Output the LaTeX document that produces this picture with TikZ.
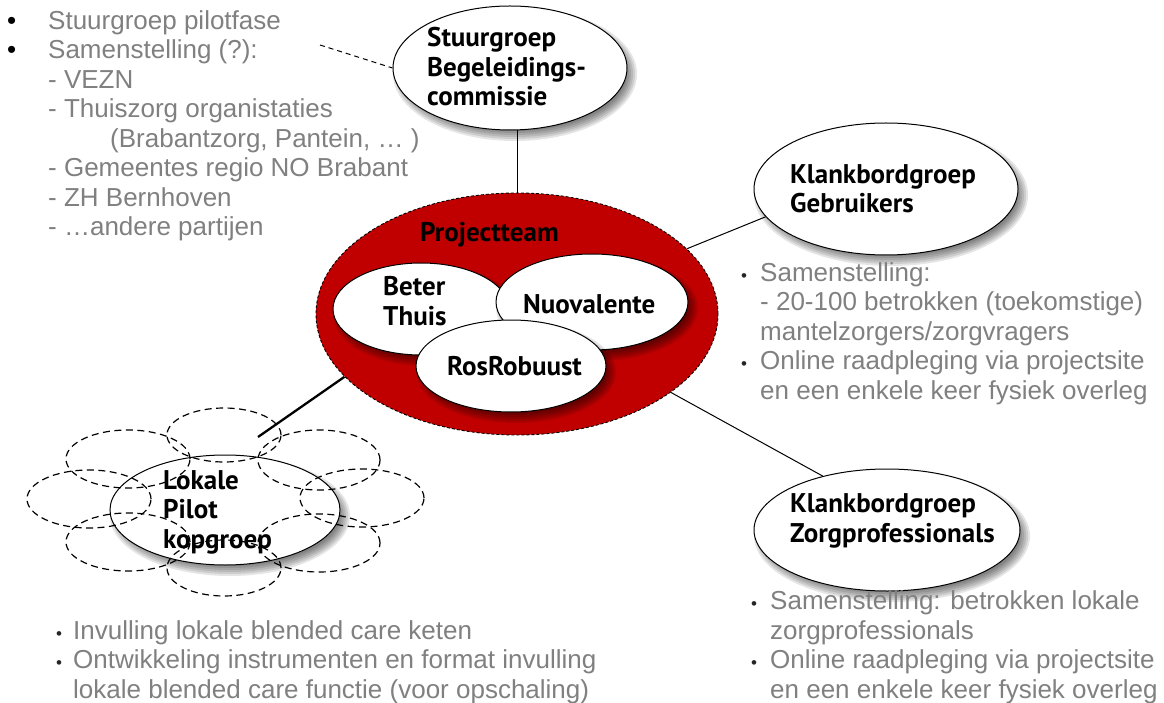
\documentclass[tikz,border=0pt]{standalone}
\usepackage{fontspec}
\setmainfont{Liberation Sans}
\newfontfamily\nodefont{PT Sans}
\usetikzlibrary{shapes.geometric}
\definecolor{txtgray}{RGB}{128,128,128}
\definecolor{projred}{RGB}{192,0,0}
\pgfdeclarelayer{back}
\pgfdeclarelayer{bg}
\pgfsetlayers{back,bg,main}
\newcommand\softshadow[4]{%
  \foreach \k in {0,...,5}{%
    \fill[black, opacity=0.1] (#1+5,#2+6) ellipse [x radius={#3+5-2*\k}, y radius={#4+5-2*\k}];}}
\begin{document}
\begin{tikzpicture}[x=1pt,y=-1pt,
  bubble/.style={ellipse, draw=black, line width=1pt, fill=white, inner sep=0pt},
  cloudpart/.style={ellipse, draw=black, dash pattern=on 7pt off 4.5pt, line width=1.2pt, inner sep=0pt},
  lbl/.style={font=\nodefont\bfseries\fontsize{27}{29.5}\selectfont, align=left, anchor=base west, inner sep=0pt},
  graytext/.style={font=\fontsize{26}{29.5}\selectfont, text=txtgray, align=left, anchor=base west, inner sep=0pt},
  link/.style={draw=black, line width=1pt}]
\begin{pgfonlayer}{back}
\fill[white] (0,0) rectangle (1164,703);
\end{pgfonlayer}
\useasboundingbox (0,0) rectangle (1164,703);

% central project team
\node[ellipse, fill=projred, draw=black, dash pattern=on 3pt off 2pt, line width=0.9pt,
      minimum width=402pt, minimum height=242pt, inner sep=0pt] (proj) at (517,314) {};
\node[lbl] (projt) at (420,242) {Projectteam};
\softshadow{421}{309}{88}{46}
\node[bubble, minimum width=176pt, minimum height=92pt] (beter) at (421,309) {};
\softshadow{592}{302}{96}{48}
\node[bubble, minimum width=192pt, minimum height=96pt] (nuova) at (592,302) {};
\softshadow{511}{366}{95}{46}
\node[bubble, minimum width=190pt, minimum height=92pt] (ros) at (511,366) {};
\node[lbl] (betert) at (383,325) {Beter\\Thuis};
\node[lbl] (nuovat) at (523,313) {Nuovalente};
\node[lbl] (rost) at (447,375) {RosRobuust};

% stuurgroep
\softshadow{510}{68}{117}{62}
\node[bubble, minimum width=234pt, minimum height=124pt] (stuur) at (510,68) {};
\node[lbl] (stuurt) at (427,106) {Stuurgroep\\Begeleidings-\\commissie};

% klankbord gebruikers
\softshadow{886}{189}{132}{66}
\node[bubble, minimum width=264pt, minimum height=132pt] (gebr) at (886,189) {};
\node[lbl] (gebrt) at (790,213) {Klankbordgroep\\Gebruikers};

% klankbord zorgprofessionals
\softshadow{887}{530}{133}{61}
\node[bubble, minimum width=266pt, minimum height=122pt] (zorg) at (887,530) {};
\node[lbl] (zorgt) at (790,542) {Klankbordgroep\\Zorgprofessionals};

% lokale pilot
\softshadow{225}{510}{115}{55}
\node[bubble, minimum width=230pt, minimum height=110pt] (lok) at (225,510) {};
\node[cloudpart, minimum width=114pt, minimum height=54pt] (c1) at (224,435) {};
\node[cloudpart, minimum width=124pt, minimum height=58pt] (c2) at (128,459) {};
\node[cloudpart, minimum width=122pt, minimum height=60pt] (c3) at (319,460) {};
\node[cloudpart, minimum width=124pt, minimum height=58pt] (c4) at (89,499) {};
\node[cloudpart, minimum width=124pt, minimum height=58pt] (c5) at (362,498) {};
\node[cloudpart, minimum width=124pt, minimum height=58pt] (c6) at (128,542) {};
\node[cloudpart, minimum width=122pt, minimum height=58pt] (c7) at (319,543) {};
\node[cloudpart, minimum width=114pt, minimum height=56pt] (c8) at (224,568) {};
\node[lbl] (lokt) at (163,548) {Lokale\\Pilot\\kopgroep};

% connectors
\coordinate (lk) at (258,437);
\coordinate (dl) at (320,45);
\begin{pgfonlayer}{bg}
\draw[link] (proj.north) -- (proj.north |- stuur.south);
\draw[link] (proj.21) -- (gebr.193);
\draw[link] (proj.333) -- (zorg.140);
\draw[draw=black, line width=2.3pt] (lk) -- (proj.200);
\draw[black, line width=1pt, dash pattern=on 5pt off 4pt] (dl) -- (stuur.west);
\end{pgfonlayer}

% texts
\node[graytext] (tl) at (48,236) {%
\llap{\makebox[41pt][l]{\color{black}\fontsize{26}{26}\selectfont•}}Stuurgroep pilotfase\\
\llap{\makebox[41pt][l]{\color{black}\fontsize{26}{26}\selectfont•}}Samenstelling (?):\\
- VEZN\\
- Thuiszorg organistaties\\
\hspace*{62pt}(Brabantzorg, Pantein, … )\\
- Gemeentes regio NO Brabant\\
- ZH Bernhoven\\
- …andere partijen};

\node[graytext] (tr) at (760,399) {%
\llap{\makebox[19pt][l]{\color{black!85}\fontsize{17}{17}\selectfont•}}Samenstelling:\\
- 20-100 betrokken (toekomstige)\\
mantelzorgers/zorgvragers\\
\llap{\makebox[19pt][l]{\color{black!85}\fontsize{17}{17}\selectfont•}}Online raadpleging via projectsite\\
en een enkele keer fysiek overleg};

\node[graytext] (br) at (770,698) {%
\llap{\makebox[19pt][l]{\color{black!85}\fontsize{17}{17}\selectfont•}}Samenstelling: betrokken lokale\\
zorgprofessionals\\
\llap{\makebox[19pt][l]{\color{black!85}\fontsize{17}{17}\selectfont•}}Online raadpleging via projectsite\\
en een enkele keer fysiek overleg};

\node[graytext] (bl) at (73,698) {%
\llap{\makebox[17pt][l]{\color{black!85}\fontsize{17}{17}\selectfont•}}Invulling lokale blended care keten\\
\llap{\makebox[17pt][l]{\color{black!85}\fontsize{17}{17}\selectfont•}}Ontwikkeling instrumenten en format invulling\\
lokale blended care functie (voor opschaling)};
\end{tikzpicture}
\end{document}
